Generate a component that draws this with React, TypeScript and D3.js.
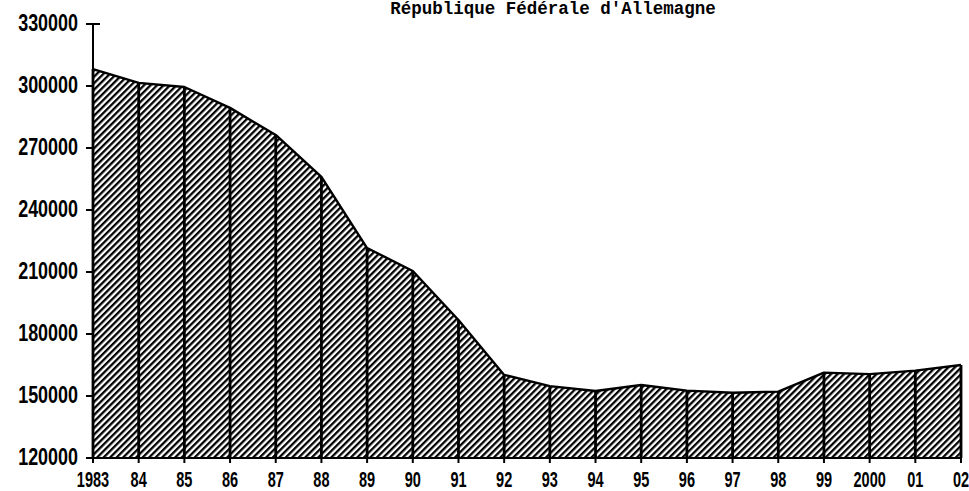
import React from "react";
import * as d3 from "d3";

const years = ["1983","84","85","86","87","88","89","90","91","92","93","94","95","96","97","98","99","2000","01","02"];
const values = [308200,301500,299500,289400,276300,256000,221600,210500,186800,160200,154800,152400,155300,152600,151600,152100,161300,160600,162300,165000];
const yTicks = [120000,150000,180000,210000,240000,270000,300000,330000];
const title = "République Fédérale d'Allemagne";

const W = 969, H = 491;
const left = 93, right = 961, top = 24, bottom = 458;

export default function App() {
  const x = d3.scalePoint<string>().domain(years).range([left, right]);
  const y = d3.scaleLinear().domain([120000, 330000]).range([bottom, top]);
  const pts = years.map((yr, i) => ({ yr, v: values[i] }));
  const area = d3.area<any>().x(d => x(d.yr)!).y0(y(120000)).y1(d => y(d.v));
  const line = d3.line<any>().x(d => x(d.yr)!).y(d => y(d.v));
  const labelFont = "'Liberation Sans', Arial, sans-serif";
  return (
    <svg width={W} height={H} style={{ position: "absolute", left: 0, top: 0, background: "#fff" }}>
      <defs>
        <pattern id="hatch" patternUnits="userSpaceOnUse" width={4.6} height={10} patternTransform="rotate(45)">
          <rect x={0} y={0} width={2.3} height={10} fill="#000" />
        </pattern>
      </defs>
      <text x={553} y={14} textAnchor="middle" fontFamily="'Liberation Mono', 'Courier New', monospace" fontWeight="bold" fontSize={17.5} fill="#000">{title}</text>
      <path d={area(pts)!} fill="url(#hatch)" />
      {pts.map(d => (
        <line key={d.yr} x1={x(d.yr)} x2={x(d.yr)} y1={y(120000)} y2={y(d.v)} stroke="#000" strokeWidth={2.8} />
      ))}
      <path d={line(pts)!} fill="none" stroke="#000" strokeWidth={2.4} strokeLinejoin="round" />
      {/* y axis */}
      <line x1={left} x2={left} y1={top} y2={bottom} stroke="#000" strokeWidth={2} />
      {yTicks.map(t => (
        <g key={t}>
          <line x1={86} x2={t === 330000 ? 100 : left} y1={y(t)} y2={y(t)} stroke="#000" strokeWidth={2} />
          <text transform={`translate(78,${y(t) + 7}) scale(0.78,1)`} textAnchor="end" fontFamily={labelFont} fontWeight="bold" fontSize={23} fill="#000">{t}</text>
        </g>
      ))}
      {/* x axis */}
      <line x1={left} x2={right + 1} y1={bottom} y2={bottom} stroke="#000" strokeWidth={2} />
      {years.map(yr => (
        <g key={yr}>
          <line x1={x(yr)} x2={x(yr)} y1={bottom} y2={bottom + 5} stroke="#000" strokeWidth={2} />
          <text transform={`translate(${x(yr)},${487}) scale(0.66,1)`} textAnchor="middle" fontFamily={labelFont} fontWeight="bold" fontSize={22} fill="#000">{yr}</text>
        </g>
      ))}
    </svg>
  );
}
